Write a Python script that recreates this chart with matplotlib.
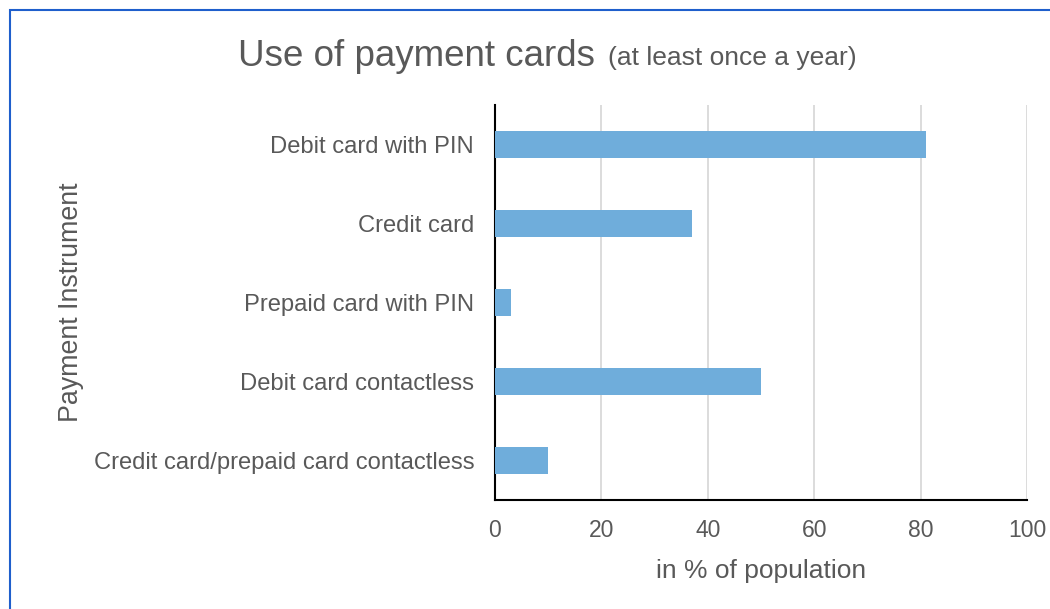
import matplotlib.pyplot as plt
from matplotlib.patches import Rectangle

plt.rcParams['font.family'] = ['Liberation Sans', 'DejaVu Sans']

# datos
categories = ["Debit card with PIN", "Credit card", "Prepaid card with PIN",
              "Debit card contactless", "Credit card/prepaid card contactless"]
values = [81, 37, 3, 50, 10]
xticks = [0, 20, 40, 60, 80, 100]

gray = "#595959"

fig = plt.figure(figsize=(10.5, 6.09), dpi=100)
ax = fig.add_axes([0.4714, 0.179, 0.5066, 0.6486])

pos = list(range(len(categories)))
ax.barh(pos, values, height=0.35, color="#6faddb", zorder=3)
ax.set_ylim(len(categories) - 0.5, -0.5)
ax.set_xlim(0, 100)
ax.set_xticks(xticks)
ax.set_yticks(pos)
ax.set_yticklabels(categories)

ax.grid(axis="x", color="#d9d9d9", linewidth=1.3, zorder=0)
ax.tick_params(axis="x", length=0, labelsize=16.5, colors=gray, pad=14)
ax.tick_params(axis="y", length=0, labelsize=17.1, colors=gray, pad=15)
for s in ["top", "right"]:
    ax.spines[s].set_visible(False)
for s in ["left", "bottom"]:
    ax.spines[s].set_color("black")
    ax.spines[s].set_linewidth(1.5)

ax.set_xlabel("in % of population", fontsize=19, color=gray, labelpad=12)
fig.text(0.068, 0.504, "Payment Instrument", rotation=90, fontsize=19.3,
         color=gray, ha="center", va="center")

# titulo
fig.text(238 / 1050, 0.908, "Use of payment cards", fontsize=26.5, color=gray,
         ha="left", va="center")
fig.text(608 / 1050, 0.904, "(at least once a year)", fontsize=19, color=gray,
         ha="left", va="center")

# borde
fig.patches.append(Rectangle((10 / 1050, -0.1), 1.2, 1 - 10 / 609 + 0.1,
                             transform=fig.transFigure, fill=False,
                             edgecolor="#1f5fcc", linewidth=1.5))

fig.savefig("out.png", dpi=100)
